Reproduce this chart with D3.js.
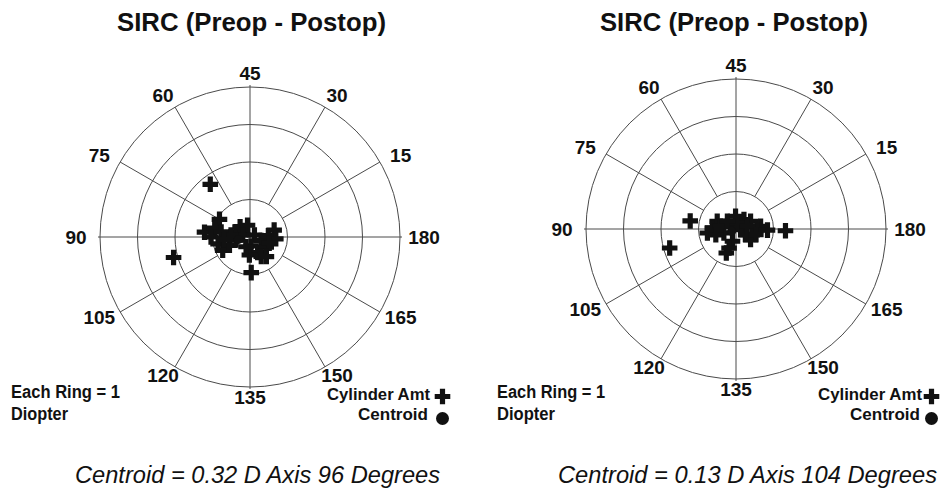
<!DOCTYPE html>
<html><head><meta charset="utf-8">
<script src="https://cdn.jsdelivr.net/npm/d3@7"></script>
<style>body{margin:0;background:#fff} svg{display:block}</style>
</head><body>
<svg id="chart" width="941" height="495"></svg>
<script>
// ---- data ----
const axisLabels = [15, 30, 45, 60, 75, 90, 105, 120, 135, 150, 165, 180];
const ringValues = [1, 2, 3, 4];

// left panel: cylinder amount (D) and axis (deg)
const leftCyl  = [1.76, 2.11, 0.95, 1.22, 0.94, 0.97, 1.04, 0.78, 0.87, 0.81, 0.59, 0.40, 0.38, 0.32, 0.20, 0.38, 0.13, 0.31, 0.49, 0.67, 0.69, 0.24, 0.46, 0.51, 0.48, 0.54, 0.28, 0.51, 0.60, 0.69, 0.68];
const leftAxis = [63.5, 97.5, 136, 87, 75, 83, 90, 85, 96, 103, 101, 80, 67, 51, 82, 96, 12, 171, 2, 8, 178, 138, 148, 164, 134, 171, 124, 87, 150, 93, 155];

// right panel
const rightCyl  = [1.24, 1.84, 1.32, 0.69, 0.54, 0.77, 0.63, 0.34, 0.33, 0.44, 0.66, 0.84, 0.16, 0.13, 0.48, 0.34, 0.34, 0.54, 0.57, 0.42, 0.30, 0.16, 0.31, 0.31, 0.55, 0.56];
const rightAxis = [85, 98, 179, 124, 79, 94, 89, 46, 25, 14, 3, 179, 77, 176, 162, 99, 127, 125, 179, 85, 165, 39, 7, 69, 172, 98];

const centroidCyl  = [0.32, 0.13];
const centroidAxis = [96, 104];

const titles  = ["SIRC (Preop - Postop)", "SIRC (Preop - Postop)"];
const footers = ["Centroid = 0.32 D Axis 96 Degrees", "Centroid = 0.13 D Axis 104 Degrees"];
const legendRing = ["Each Ring = 1", "Diopter"];
const legendMarks = ["Cylinder Amt", "Centroid"];

// ---- layout ----
const svg = d3.select("#chart");
const FONT = "'Liberation Sans', Arial, Helvetica, sans-serif";
const panels = [
  {cx: 250, cy: 237, cyl: leftCyl, axis: leftAxis, ci: 0,
   titleX: 251.5, titleW: 269, footX: 75, footW: 365,
   legL: 11, ringW: 109, diopW: 57, cylX: 327, cylW: 103, cenX: 358, cenW: 70, markX: 442.5},
  {cx: 736, cy: 229, cyl: rightCyl, axis: rightAxis, ci: 1,
   titleX: 734, titleW: 268, footX: 558, footW: 379,
   legL: 497, ringW: 108, diopW: 58, cylX: 818, cylW: 104, cenX: 850, cenW: 70, markX: 931.5}
];

const rScale = d3.scaleLinear().domain([0, 4]).range([0, 150]);
// doubled-angle plot: axis v drawn at 2v degrees counter-clockwise from the right
const aScale = d3.scaleLinear().domain([0, 180]).range([Math.PI / 2, Math.PI / 2 - 2 * Math.PI]);
const cross = d3.symbol().type(d3.symbolCross).size(135);

panels.forEach(p => {
  const g = svg.append("g").attr("transform", `translate(${p.cx},${p.cy})`);

  // rings
  g.selectAll("circle.ring").data(ringValues).join("circle")
    .attr("class", "ring").attr("r", d => rScale(d))
    .attr("fill", "none").attr("stroke", "#4a4a4a").attr("stroke-width", 1);

  // spokes
  g.selectAll("line.spoke").data(axisLabels).join("line")
    .attr("class", "spoke")
    .each(function(v) {
      const main = v % 45 === 0;
      const p0 = d3.pointRadial(aScale(v), main ? 0 : rScale(1));
      const p1 = d3.pointRadial(aScale(v), rScale(4) + (main ? 2 : 0));
      d3.select(this).attr("x1", p0[0]).attr("y1", p0[1]).attr("x2", p1[0]).attr("y2", p1[1]);
    })
    .attr("stroke", "#4a4a4a").attr("stroke-width", 1);

  // axis labels
  g.selectAll("text.lab").data(axisLabels).join("text")
    .attr("class", "lab")
    .attr("x", v => 174 * Math.sin(aScale(v)))
    .attr("y", v => { const c = -Math.cos(aScale(v)); return (c > 0 ? 160 : 164) * c; })
    .attr("dy", "0.36em")
    .attr("text-anchor", "middle")
    .attr("font-family", FONT).attr("font-weight", "bold").attr("font-size", 19)
    .attr("fill", "#111")
    .text(v => v);

  // data crosses
  const pts = p.cyl.map((c, i) => ({c, a: p.axis[i]}));
  g.selectAll("path.pt").data(pts).join("path")
    .attr("class", "pt")
    .attr("transform", d => { const q = d3.pointRadial(aScale(d.a), rScale(d.c)); return `translate(${q[0]},${q[1]})`; })
    .attr("d", cross).attr("fill", "#111");

  // centroid
  const cq = d3.pointRadial(aScale(centroidAxis[p.ci]), rScale(centroidCyl[p.ci]));
  g.append("circle").attr("cx", cq[0]).attr("cy", cq[1]).attr("r", 4.5).attr("fill", "#111");

  // title
  svg.append("text").attr("x", p.titleX - p.titleW / 2).attr("y", 31)
    .attr("textLength", p.titleW).attr("lengthAdjust", "spacingAndGlyphs")
    .attr("font-family", FONT).attr("font-weight", "bold").attr("font-size", 25.5)
    .attr("fill", "#111").text(titles[p.ci]);

  // legend left
  [[legendRing[0], 398, p.ringW], [legendRing[1], 420, p.diopW]].forEach(([t, y, w]) => {
    svg.append("text").attr("x", p.legL).attr("y", y)
      .attr("textLength", w).attr("lengthAdjust", "spacingAndGlyphs")
      .attr("font-family", FONT).attr("font-weight", "bold").attr("font-size", 17.5)
      .attr("fill", "#111").text(t);
  });
  // legend right
  [[legendMarks[0], 400, p.cylX, p.cylW], [legendMarks[1], 420, p.cenX, p.cenW]].forEach(([t, y, x, w]) => {
    svg.append("text").attr("x", x).attr("y", y)
      .attr("textLength", w).attr("lengthAdjust", "spacingAndGlyphs")
      .attr("font-family", FONT).attr("font-weight", "bold").attr("font-size", 17)
      .attr("fill", "#111").text(t);
  });
  svg.append("path").attr("transform", `translate(${p.markX},396.5)`).attr("d", cross).attr("fill", "#111");
  svg.append("circle").attr("cx", p.markX).attr("cy", 418.5).attr("r", 6.5).attr("fill", "#111");

  // footer
  svg.append("text").attr("x", p.footX).attr("y", 483)
    .attr("textLength", p.footW).attr("lengthAdjust", "spacingAndGlyphs")
    .attr("font-family", FONT).attr("font-style", "italic").attr("font-size", 23.5)
    .attr("fill", "#111").text(footers[p.ci]);
});
</script>
</body></html>
